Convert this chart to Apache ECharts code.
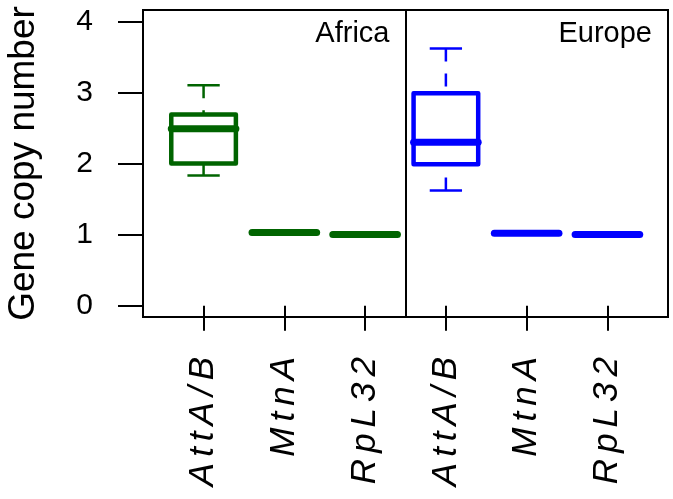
<!DOCTYPE html>
<html><head><meta charset="utf-8">
<script src="https://cdn.jsdelivr.net/npm/echarts@6/dist/echarts.min.js"></script>
<style>html,body{margin:0;padding:0;background:#fff}#c{width:673px;height:499px}</style>
</head><body><div id="c"></div>
<script>
// ---- data ----
const genes = ['AttA/B', 'MtnA', 'RpL32'];
const regions = ['Africa', 'Europe'];
const regionColors = ['#006400', '#0000ff'];
// each row: [min, q1, median, q3, max]
const africa = [[1.83, 2.00, 2.49, 2.69, 3.10], [1.02, 1.02, 1.03, 1.03, 1.04], [1.00, 1.00, 1.00, 1.00, 1.00]];
const europe = [[1.62, 1.99, 2.30, 2.99, 3.62], [1.02, 1.02, 1.02, 1.03, 1.03], [1.00, 1.00, 1.00, 1.00, 1.00]];
const yTicks = [0, 1, 2, 3, 4];
const xLabels = genes.concat(genes);
const xPositions = xLabels.map((_, i) => i + 1);

const FONT = '"Liberation Sans", Arial, Helvetica, sans-serif';

const seriesData = [];
[africa, europe].forEach((grp, r) => {
  grp.forEach((s, g) => {
    seriesData.push([r * genes.length + g + 1].concat(s, [r]));
  });
});

function renderItem(params, api) {
  const x = api.value(0);
  const pMin = api.coord([x, api.value(1)]);
  const pQ1 = api.coord([x, api.value(2)]);
  const pMed = api.coord([x, api.value(3)]);
  const pQ3 = api.coord([x, api.value(4)]);
  const pMax = api.coord([x, api.value(5)]);
  const band = api.size([1, 0])[0];
  const bw = band * 0.8;
  const cw = bw * 0.5;
  const color = regionColors[api.value(6)];
  const cx = pMed[0];
  const thin = { stroke: color, lineWidth: 2.5, fill: null };
  const dashed = { stroke: color, lineWidth: 2.5, fill: null, lineDash: [13, 12] };
  return {
    type: 'group',
    children: [
      { type: 'line', shape: { x1: cx, y1: pMax[1], x2: cx, y2: pQ3[1] }, style: dashed },
      { type: 'line', shape: { x1: cx, y1: pMin[1], x2: cx, y2: pQ1[1] }, style: dashed },
      { type: 'line', shape: { x1: cx - cw / 2, y1: pMax[1], x2: cx + cw / 2, y2: pMax[1] }, style: thin },
      { type: 'line', shape: { x1: cx - cw / 2, y1: pMin[1], x2: cx + cw / 2, y2: pMin[1] }, style: thin },
      { type: 'rect', shape: { x: cx - bw / 2, y: pQ3[1], width: bw, height: pQ1[1] - pQ3[1] },
        style: { stroke: color, lineWidth: 4.5, fill: null, lineJoin: 'round' } },
      { type: 'line', shape: { x1: cx - bw / 2, y1: pMed[1], x2: cx + bw / 2, y2: pMed[1] },
        style: { stroke: color, lineWidth: 7, lineCap: 'round' } }
    ]
  };
}

function spaced(name) {
  const chars = Array.from(name);
  return chars.map((ch, i) => '{' + (i < chars.length - 1 ? 's' : 'e') + '|' + ch + '}').join('');
}

const labelStyle = { fontFamily: FONT, fontSize: 35, fontStyle: 'italic', color: '#000' };

const chart = echarts.init(document.getElementById('c'), null, { renderer: 'canvas' });
chart.setOption({
  animation: false,
  backgroundColor: '#fff',
  grid: { left: 143, right: 5, top: 10, bottom: 182, outerBoundsMode: 'none', containLabel: false,
          show: true, borderColor: '#000', borderWidth: 2, backgroundColor: 'transparent' },
  xAxis: {
    type: 'value', min: 0.25, max: xLabels.length + 0.75,
    axisLine: { show: false }, splitLine: { show: false },
    axisTick: { show: true, customValues: xPositions, length: 25, lineStyle: { color: '#000', width: 2 } },
    axisLabel: {
      customValues: xPositions, rotate: 90, margin: 40,
      formatter: v => spaced(xLabels[Math.round(v) - 1]),
      rich: {
        s: Object.assign({ padding: [0, 6, 0, 0] }, labelStyle),
        e: Object.assign({}, labelStyle)
      }
    }
  },
  yAxis: {
    type: 'value', min: -0.16, max: 4.16,
    axisLine: { show: false }, splitLine: { show: false },
    axisTick: { show: true, customValues: yTicks, length: 25, lineStyle: { color: '#000', width: 2 } },
    axisLabel: { customValues: yTicks, fontSize: 30, fontFamily: FONT, color: '#000', margin: 50, padding: [7, 0, 0, 0] },
    name: 'Gene copy number', nameLocation: 'middle', nameGap: 101,
    nameTextStyle: { fontSize: 37, fontFamily: FONT, color: '#000' }
  },
  series: [{
    type: 'custom',
    renderItem: renderItem,
    data: seriesData,
    encode: { x: 0, y: [1, 2, 3, 4, 5] },
    silent: true,
    markLine: {
      silent: true, symbol: ['none', 'none'], animation: false,
      label: { show: false },
      lineStyle: { color: '#000', width: 2, type: 'solid' },
      data: [{ xAxis: genes.length + 0.5 }]
    }
  }]
});

// region labels, placed at top-right of each panel
const topY = 34;
const graphics = regions.map((name, r) => {
  const rightX = chart.convertToPixel({ xAxisIndex: 0 }, (r + 1) * genes.length + 0.5 + (r === regions.length - 1 ? 0.25 : 0)) - 16;
  return {
    type: 'text', x: rightX, y: topY,
    style: { text: name, fontSize: 29, fontFamily: FONT, fill: '#000', textAlign: 'right', textVerticalAlign: 'middle' }
  };
});
chart.setOption({ graphic: graphics });
</script>
</body></html>
